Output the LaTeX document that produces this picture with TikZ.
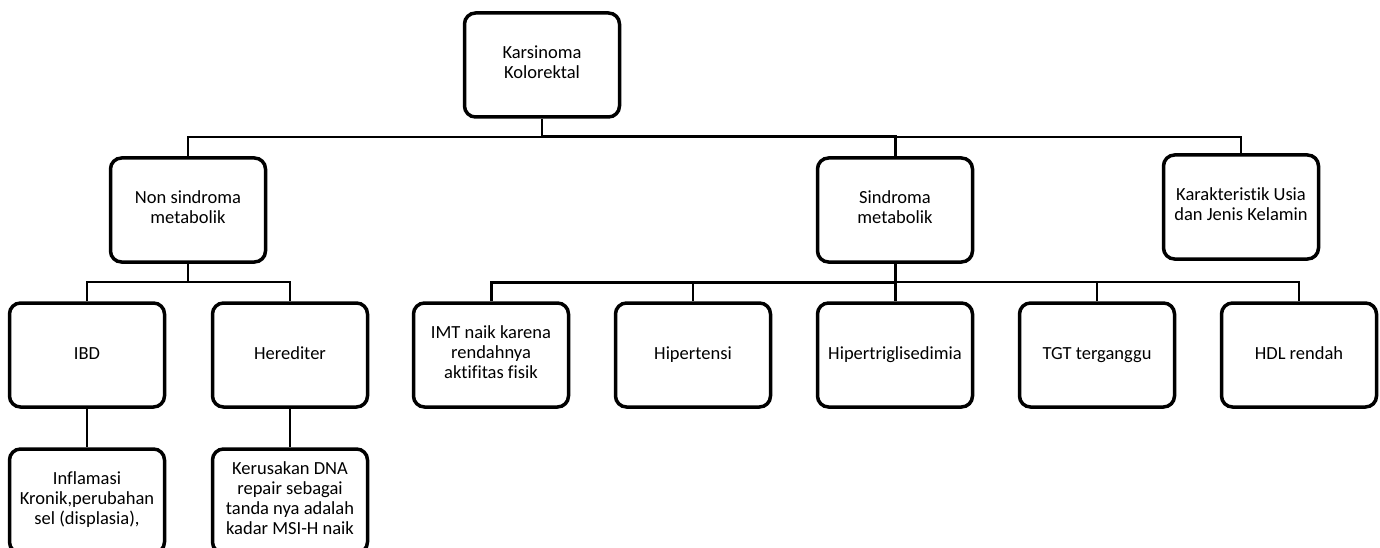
\documentclass[tikz,border=0pt]{standalone}
\usepackage{fontspec}
\setmainfont{Carlito}[Ligatures={NoCommon}]
\begin{document}
\begin{tikzpicture}[x=1pt,y=-1pt,
  box/.style={draw=black, line width=3.5pt, rounded corners=11pt, fill=white,
    minimum width=155pt, minimum height=104pt, align=center, inner sep=2pt,
    font=\fontsize{18.5}{20}\selectfont, execute at begin node=\strut,
    execute at end node=\strut},
  conn/.style={draw=black, line width=2pt},
  connb/.style={draw=black, line width=3pt}]
\useasboundingbox (0,0) rectangle (1380,548);
\clip (0,0) rectangle (1380,548);
% nodes
\node[box] (top) at (542,65) {Karsinoma\\Kolorektal};
\node[box] (nonsin) at (188,210) {Non sindroma\\metabolik};
\node[box] (sin) at (895,210) {Sindroma\\metabolik};
\node[box] (kar) at (1241,207) {Karakteristik Usia\\dan Jenis Kelamin};
\node[box] (ibd) at (87,355) {IBD};
\node[box] (her) at (290,355) {Herediter};
\node[box] (imt) at (491,355) {IMT naik karena\\rendahnya\\aktifitas fisik};
\node[box] (hipt) at (693,355) {Hipertensi};
\node[box] (hiptg) at (895,355) {Hipertriglisedimia};
\node[box] (tgt) at (1097,355) {TGT terganggu};
\node[box] (hdl) at (1299,355) {HDL rendah};
\node[box] (inf) at (87,501) {Inflamasi\\Kronik,perubahan\\sel (displasia),};
\node[box] (ker) at (290,501) {Kerusakan DNA\\repair sebagai\\tanda nya adalah\\kadar MSI-H naik};
% bus coordinates
\coordinate (b1) at (542,137);
\coordinate (b2) at (188,282);
\coordinate (b3) at (895,282);
% connectors
\draw[conn] (top.south) -- (b1) -| (nonsin.north);
\draw[connb] (b1) -| (sin.north);
\draw[conn] (sin.north |- b1) -| (kar.north);
\draw[conn] (nonsin.south) -- (b2) -| (ibd.north);
\draw[conn] (b2) -| (her.north);
\draw[connb] (sin.south) -- (b3) -- (hiptg.north);
\draw[connb] (b3) -| (imt.north);
\draw[conn] (b3 -| imt.north) -- (hipt.north |- b3) -- (hipt.north);
\draw[conn] (b3) -| (tgt.north);
\draw[conn] (b3) -| (hdl.north);
\draw[conn] (ibd.south) -- (inf.north);
\draw[conn] (her.south) -- (ker.north);
\end{tikzpicture}
\end{document}
